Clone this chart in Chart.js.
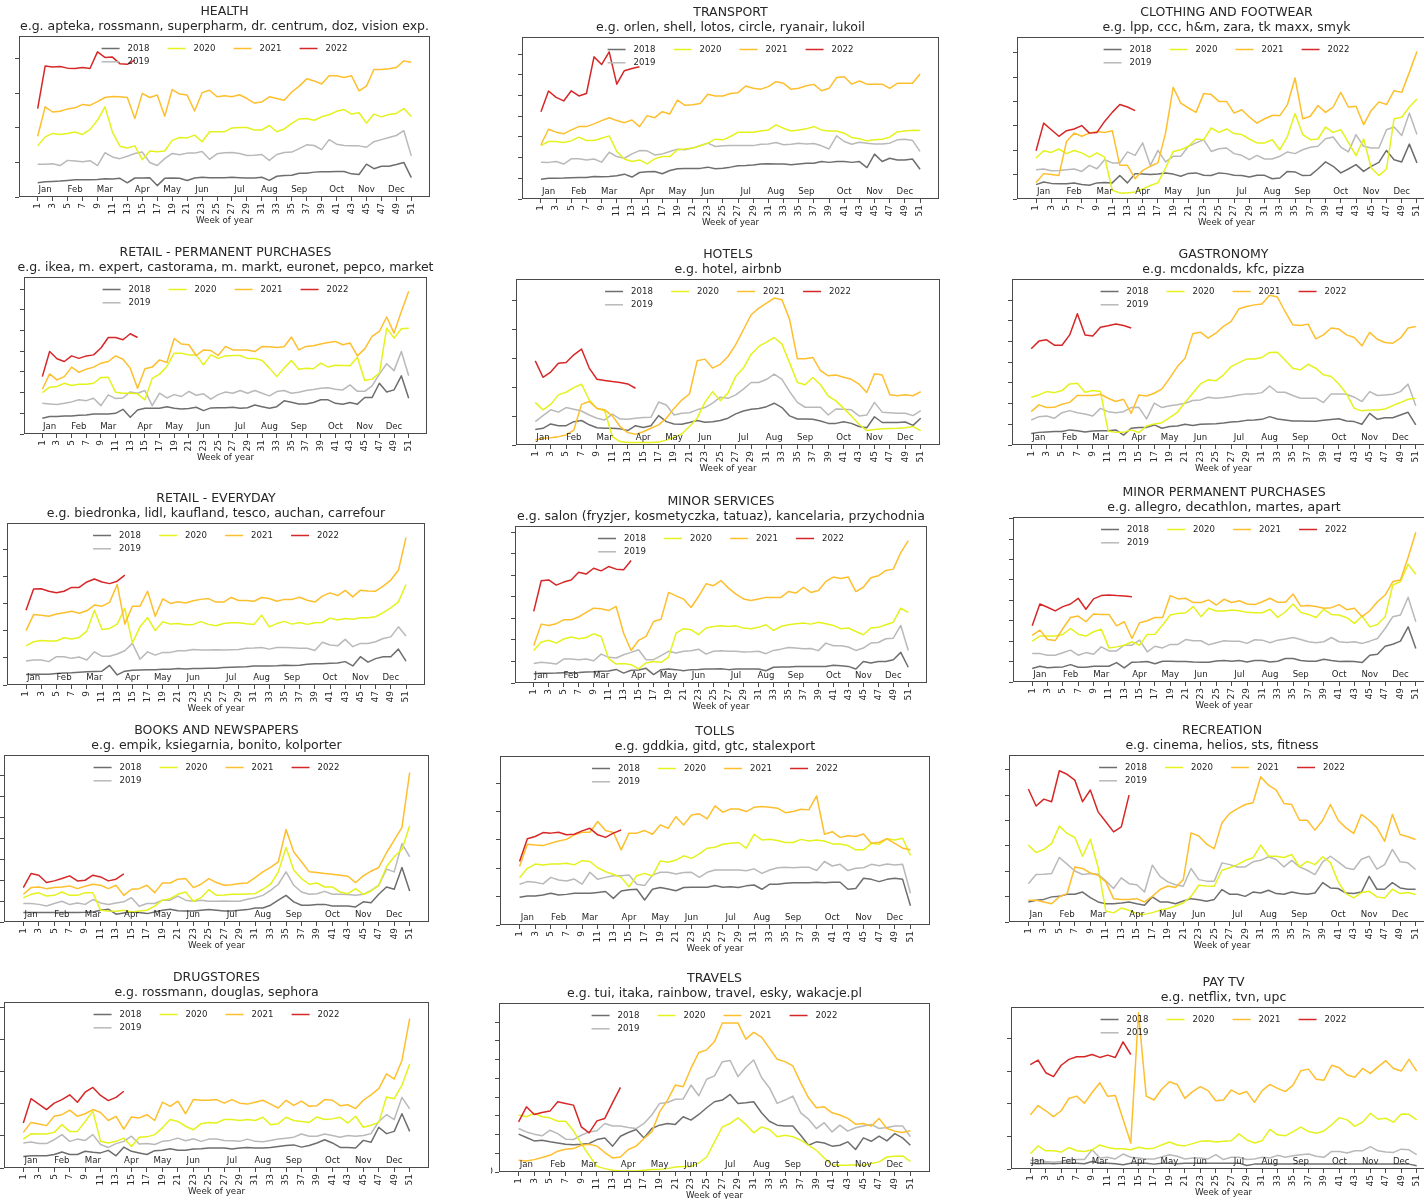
<!DOCTYPE html>
<html>
<head>
<meta charset="utf-8">
<script src="https://cdn.jsdelivr.net/npm/chart.js@4.4.1/dist/chart.umd.min.js"></script>
<style>
  html, body { margin: 0; padding: 0; background: #ffffff; overflow: hidden; width: 1424px; height: 1199px; }
  canvas { position: absolute; }
</style>
</head>
<body>
<script>
// ---- axis categories ----
const weeks = [1,2,3,4,5,6,7,8,9,10,11,12,13,14,15,16,17,18,19,20,21,22,23,24,25,26,27,28,29,30,31,32,33,34,35,36,37,38,39,40,41,42,43,44,45,46,47,48,49,50,51];
const tickWeeks = [1,3,5,7,9,11,13,15,17,19,21,23,25,27,29,31,33,35,37,39,41,43,45,47,49,51];
const monthNames = ['Jan','Feb','Mar','Apr','May','Jun','Jul','Aug','Sep','Oct','Nov','Dec'];
const monthWeeks = [2,6,10,15,19,23,28,32,36,41,45,49];
const years = ['2018','2019','2020','2021','2022'];

// ---- weekly index values, one array per category and year ----
const health2018 = [4.1,4.4,4.5,4.6,4.8,5.0,5.0,5.0,5.1,5.3,5.2,5.4,4.1,5.5,5.5,5.6,3.3,5.4,5.5,5.4,4.8,5.5,5.7,5.6,5.6,5.6,5.7,5.6,5.5,5.5,5.7,4.8,6.0,6.2,6.3,6.9,6.9,7.2,7.3,7.3,7.4,7.4,6.7,6.5,9.5,8.2,8.9,8.9,9.4,10.0,5.6];
const health2019 = [9.5,9.5,9.6,9.1,10.6,10.4,10.2,10.5,9.1,12.8,11.6,11.1,11.8,12.6,13.0,10.0,9.1,11.1,12.6,12.2,12.7,12.7,13.2,10.9,12.5,12.8,12.9,12.6,12.0,12.1,12.3,10.6,12.3,12.9,13.0,14.0,15.1,14.9,13.7,16.6,15.3,14.9,14.8,14.8,14.4,16.0,16.6,17.2,17.8,19.2,11.9];
const health2020 = [14.8,17.4,18.4,18.1,18.4,18.8,18.1,19.5,22.2,26.1,18.8,14.7,14.2,14.8,10.8,13.3,13.1,13.3,16.4,17.2,17.1,17.9,16.0,18.9,18.9,18.9,20.0,20.1,20.1,19.4,19.4,20.7,18.9,19.7,21.3,22.6,22.7,22.2,23.2,23.8,24.8,25.3,24.0,24.4,21.4,24.0,23.2,23.9,24.2,25.6,23.3];
const health2021 = [17.6,26.1,24.6,24.8,25.5,25.8,26.8,26.5,27.6,28.8,29.1,29.0,28.8,22.7,30.0,28.8,29.5,23.4,31.1,29.8,29.5,24.9,30.2,30.9,29.0,29.3,29.0,29.6,28.5,27.2,27.5,29.0,28.5,28.0,30.4,32.1,34.2,33.6,32.7,35.1,35.1,34.6,35.1,30.7,32.1,36.9,36.9,37.1,37.5,39.4,39.0];
const health2022 = [25.6,37.9,37.6,37.8,37.3,37.2,37.5,37.2,42.0,40.4,40.5,38.6,38.4,39.6];

const transport2018 = [9.6,10.0,10.0,10.1,10.3,10.4,10.4,10.9,10.8,10.9,11.2,12.0,10.6,12.8,13.2,13.3,12.2,13.8,14.6,14.8,14.8,14.8,15.4,14.6,14.9,15.4,16.1,16.2,16.4,16.9,17.0,16.9,16.9,16.5,16.9,17.3,17.3,18.1,17.7,18.1,18.1,17.7,18.1,15.2,21.7,18.1,19.7,18.9,18.9,19.3,14.4];
const transport2019 = [17.8,17.7,18.1,16.9,19.4,19.4,18.9,19.3,17.8,22.6,20.5,19.7,21.8,23.4,23.3,21.3,21.8,23.0,24.1,23.8,24.6,25.7,27.0,25.4,25.7,25.8,25.8,25.8,25.8,26.5,26.6,27.3,26.2,26.5,27.0,26.6,26.8,25.7,24.2,30.5,27.8,26.5,27.4,27.0,26.6,26.6,27.0,28.6,28.9,28.3,23.0];
const transport2020 = [25.8,27.8,27.8,27.3,28.1,29.9,28.3,28.3,29.4,30.5,23.0,19.3,18.1,18.9,17.0,19.4,20.5,20.5,23.8,24.2,24.6,25.7,27.0,28.9,28.6,30.2,32.3,32.3,32.3,32.9,33.4,35.8,34.2,32.9,33.4,33.9,35.0,33.4,32.9,32.9,31.8,29.7,29.1,28.1,28.6,28.9,29.9,32.4,32.9,33.2,33.1];
const transport2021 = [26.2,33.7,32.3,31.5,33.4,35.0,35.0,36.3,37.9,39.3,37.9,36.9,38.2,35.0,40.3,39.3,42.2,41.1,47.8,45.3,45.6,46.2,50.6,49.8,49.8,51.0,51.4,54.6,53.5,53.1,54.3,56.7,55.9,53.0,53.5,54.7,55.4,52.3,53.5,58.7,59.1,55.5,57.0,55.5,55.5,55.5,53.5,55.9,55.9,55.9,60.4];
const transport2022 = [42.2,52.2,49.1,47.4,52.3,49.8,51.0,68.7,65.0,71.1,55.5,62.0,63.1,63.9];

const clothing2018 = [5.9,7.0,6.4,6.3,6.3,6.6,5.9,5.6,6.6,6.8,6.6,9.6,6.6,10.4,10.2,10.0,10.2,10.7,10.2,9.3,10.5,10.7,9.7,9.6,10.7,10.4,9.7,9.6,9.0,9.7,9.7,8.3,8.6,11.3,11.1,9.6,9.7,12.3,15.2,13.4,10.7,12.3,14.1,11.3,13.4,15.0,19.9,16.1,15.2,22.5,14.8];
const clothing2019 = [12.0,12.3,11.6,11.7,12.0,12.3,11.3,13.8,12.4,16.1,14.8,14.8,19.3,17.9,23.0,13.8,19.9,15.2,17.5,17.5,21.6,23.0,24.3,19.5,20.6,20.9,18.6,17.9,16.1,17.9,16.4,16.4,17.5,19.3,18.6,20.2,21.2,21.6,24.7,25.4,21.3,19.3,26.4,21.6,20.9,20.9,28.4,29.5,26.0,35.2,26.4];
const clothing2020 = [16.8,19.8,19.1,20.5,18.6,19.9,18.9,17.2,18.9,17.2,3.6,2.5,2.5,2.9,4.1,5.5,6.6,12.7,19.5,20.2,21.6,24.6,24.3,29.1,27.3,28.7,26.8,26.4,24.6,23.0,23.0,24.3,20.2,25.7,35.0,26.4,24.3,24.6,29.5,27.3,28.4,23.2,17.8,24.6,12.7,9.6,12.3,32.9,33.5,37.7,41.0];
const clothing2021 = [6.8,10.4,10.0,9.6,23.6,27.0,25.7,27.0,27.7,27.3,28.0,13.8,13.8,8.3,11.7,13.4,14.8,27.0,45.8,39.3,37.3,35.5,43.2,42.8,40.0,40.0,35.2,36.6,33.6,31.1,32.9,34.2,34.2,38.7,49.6,32.9,33.9,38.3,35.5,37.7,43.7,37.7,38.0,30.5,36.3,39.8,38.7,44.4,43.7,51.9,60.5];
const clothing2022 = [19.8,31.1,28.4,25.7,28.0,28.7,30.1,27.0,27.3,31.8,35.5,38.7,37.7,36.2];

const retailPerm2018 = [7.6,8.4,8.4,8.7,8.7,9.0,9.2,9.7,9.7,9.7,10.0,11.9,8.1,11.6,12.4,12.4,12.4,13.2,12.4,12.1,12.3,12.9,11.3,12.6,12.7,12.7,12.9,12.4,12.7,14.0,13.2,12.4,13.2,16.0,15.3,14.5,14.5,15.2,16.5,16.5,14.8,14.4,15.2,14.4,17.6,17.6,24.5,20.3,21.3,28.1,17.3];
const retailPerm2019 = [14.8,14.5,14.2,14.8,15.5,16.5,16.1,17.3,13.7,18.9,17.1,17.4,20.3,19.7,21.0,13.7,19.7,17.4,19.0,18.1,20.6,18.7,19.4,16.8,19.0,20.3,19.7,21.0,19.7,21.0,19.7,18.4,20.5,21.0,19.7,20.2,21.0,21.5,22.1,22.3,21.6,21.3,23.7,20.6,20.6,23.2,28.9,33.9,30.6,39.8,28.1];
const retailPerm2020 = [20.0,22.6,22.9,24.5,23.4,24.0,24.0,24.5,27.3,27.4,20.2,19.7,19.7,19.4,16.5,26.9,28.9,32.6,39.0,39.0,38.2,38.2,33.4,38.2,36.5,37.7,37.9,37.9,36.5,36.5,35.5,31.8,27.7,31.8,35.5,31.3,31.8,31.5,34.2,32.3,33.2,33.1,32.9,37.1,25.8,26.5,29.4,51.1,46.3,50.8,51.1];
const retailPerm2021 = [21.6,29.0,26.1,27.7,32.3,29.8,31.3,32.3,34.2,35.0,37.7,36.1,31.8,22.1,31.5,32.3,35.8,34.5,46.1,43.4,43.1,37.9,40.6,40.3,37.9,42.3,40.6,40.6,40.6,39.8,42.3,42.1,41.8,42.1,46.8,40.6,42.3,42.6,43.5,44.2,44.7,43.1,43.9,37.7,41.1,47.1,49.5,56.5,48.7,59.2,68.9];
const retailPerm2022 = [27.7,39.8,36.3,35.0,37.7,36.5,37.7,38.2,41.5,46.6,46.6,45.5,48.4,46.6];

const hotels2018 = [5.4,5.8,7.3,6.7,6.7,8.1,8.5,7.0,6.0,5.8,5.8,5.6,5.0,6.7,6.1,6.7,10.2,8.1,7.3,7.2,7.8,8.5,7.9,8.1,8.5,9.3,10.8,11.8,12.4,12.7,13.3,14.5,13.0,10.1,9.0,9.0,8.9,8.3,7.5,7.5,8.1,7.5,6.4,6.0,9.8,7.8,7.8,7.8,8.0,6.8,9.3];
const hotels2019 = [8.1,10.2,12.2,11.4,13.0,12.4,11.8,10.4,9.3,8.7,10.7,9.0,8.9,9.3,9.5,9.6,14.9,13.9,10.4,11.0,11.2,12.2,13.0,14.5,16.6,16.2,17.4,19.4,21.7,21.7,22.8,24.6,22.8,18.5,14.8,13.1,13.1,13.1,10.4,12.5,12.4,12.2,10.1,10.4,14.8,11.4,11.2,11.0,11.0,10.2,11.9];
const hotels2020 = [14.7,12.2,14.1,17.4,18.3,19.9,21.1,15.6,12.7,11.9,2.9,1.2,0.9,0.9,0.9,0.9,1.0,1.7,2.7,3.8,6.4,9.3,14.8,18.5,15.4,18.0,23.8,26.7,31.5,34.2,35.7,37.3,35.0,28.4,21.7,20.9,23.4,20.9,17.0,15.3,12.7,10.1,7.2,5.0,5.4,5.6,5.7,5.8,6.0,6.4,5.0];
const hotels2021 = [1.7,2.3,2.5,2.9,3.5,5.2,14.1,15.1,12.7,12.2,10.1,6.4,4.3,3.7,4.6,5.8,7.0,9.3,12.7,15.6,17.7,29.2,29.8,26.7,28.0,30.7,34.8,40.0,45.2,47.5,49.2,51.0,50.4,43.5,29.9,29.9,30.4,25.8,24.0,24.3,23.5,22.8,21.1,18.2,24.7,24.3,17.4,17.1,17.4,17.1,18.5];
const hotels2022 = [29.2,23.5,25.3,28.4,28.6,31.3,33.3,26.7,22.8,22.4,22.0,21.7,21.2,19.7];

const gastro2018 = [5.6,6.1,6.3,6.5,6.5,7.3,6.9,6.3,6.8,6.9,6.9,7.3,4.8,8.1,8.4,8.5,9.7,8.1,8.9,9.2,10.0,9.4,10.0,10.2,10.3,10.6,11.1,11.3,11.9,12.1,12.4,13.7,12.6,12.1,11.6,11.6,11.5,11.5,11.9,12.3,12.7,11.6,11.3,10.0,15.3,12.4,13.2,13.2,14.5,15.8,9.7];
const gastro2019 = [12.1,13.7,14.0,12.9,15.6,16.6,15.6,15.0,14.0,17.7,16.1,15.6,16.1,18.1,18.2,12.6,20.2,18.1,19.0,19.4,20.2,21.5,21.8,23.1,22.6,22.9,23.4,24.2,24.7,24.7,25.3,28.5,25.5,25.5,23.9,22.6,22.6,22.6,20.5,24.7,24.7,24.5,23.1,21.0,25.8,23.9,24.2,24.5,25.8,29.4,19.0];
const gastro2020 = [23.1,24.2,25.8,25.3,26.3,29.5,29.8,25.5,26.3,25.8,6.8,6.1,6.1,7.3,6.0,9.2,10.2,10.8,13.2,15.8,20.5,25.0,29.5,31.5,31.0,33.9,37.9,39.8,41.5,41.6,42.3,44.7,44.8,41.1,37.1,36.3,39.0,37.1,33.9,33.1,29.5,24.7,17.7,16.5,16.9,16.9,17.4,19.0,20.5,22.1,22.6];
const gastro2021 = [16.1,19.4,18.1,18.2,19.7,20.6,23.9,23.9,23.9,24.5,22.6,21.0,22.1,15.3,24.2,23.7,25.0,27.1,32.3,37.9,41.9,53.7,54.5,51.6,54.0,57.3,59.7,65.8,66.9,67.7,68.1,72.3,71.5,64.5,58.1,57.7,58.4,51.3,53.2,56.5,56.0,53.2,51.9,47.9,54.4,51.1,49.5,49.2,51.6,56.5,57.3];
const gastro2022 = [46.5,50.2,50.8,48.2,48.2,53.2,63.4,53.2,52.7,56.9,57.6,58.5,57.7,56.5];

const retailDay2018 = [3.9,4.0,4.0,4.0,4.2,4.4,4.5,4.7,4.9,5.0,5.1,7.2,3.7,5.1,5.4,5.5,5.6,5.6,5.8,5.8,6.1,5.9,6.1,6.1,6.2,6.2,6.4,6.5,6.6,6.7,7.0,7.0,7.0,7.1,7.3,7.2,7.3,7.6,7.8,7.8,8.0,8.1,8.6,7.0,10.4,8.4,9.7,10.4,10.4,13.2,8.8];
const retailDay2019 = [8.8,9.2,9.2,8.6,10.4,10.4,9.8,10.3,9.2,12.2,10.6,10.6,11.4,12.6,15.3,9.5,12.2,11.0,12.0,12.0,12.6,12.6,13.1,12.9,12.9,13.0,12.9,13.0,13.1,13.5,13.6,13.8,13.2,13.8,13.8,13.7,13.5,13.5,12.7,15.7,14.7,14.4,16.8,14.1,15.3,15.3,15.9,17.1,17.7,21.4,18.0];
const retailDay2020 = [14.4,15.9,16.4,16.2,16.2,17.4,16.9,17.5,19.8,27.5,20.4,20.8,22.4,28.2,15.5,21.4,24.8,20.0,23.3,22.4,22.6,22.2,22.3,23.3,22.3,21.8,22.6,22.9,22.9,22.5,22.3,25.7,21.4,22.6,23.4,22.4,23.0,22.3,22.9,23.0,24.6,23.9,24.5,24.2,24.7,24.7,25.1,26.6,28.4,30.6,37.0];
const retailDay2021 = [20.0,25.9,25.7,25.3,26.1,26.6,27.1,26.4,27.3,29.4,29.0,30.4,37.0,22.4,29.0,29.0,34.5,25.3,31.7,30.0,30.6,30.2,31.0,31.5,31.8,30.5,30.5,32.2,31.1,31.1,30.8,32.2,31.8,30.8,31.5,31.5,32.3,31.2,30.5,32.7,33.9,32.9,34.8,32.4,34.9,34.6,34.5,36.4,38.6,42.2,54.2];
const retailDay2022 = [27.5,35.3,35.4,34.5,33.9,34.5,35.9,35.9,37.9,39.0,37.9,37.3,38.2,40.4];

const services2018 = [4.3,4.5,4.5,4.6,4.8,4.8,4.9,5.1,5.2,5.4,5.6,6.3,4.6,5.9,6.0,6.8,3.9,6.2,6.5,6.2,5.7,6.2,6.3,6.5,6.5,6.6,6.2,6.5,6.5,6.5,6.5,5.7,7.3,7.4,7.4,7.6,7.6,7.6,7.6,7.7,8.2,8.0,7.7,6.5,10.0,9.3,10.0,10.0,10.8,14.2,7.3];
const services2019 = [9.0,9.6,9.3,8.8,11.1,11.1,10.8,11.1,10.3,13.4,11.9,11.6,13.1,14.2,15.4,10.8,10.8,12.7,14.7,13.9,14.7,15.0,15.7,13.4,14.7,15.0,14.7,14.7,14.4,14.5,14.7,13.6,15.1,15.7,16.5,16.2,15.9,16.0,15.0,18.5,17.3,17.3,16.7,15.1,16.2,18.5,18.8,20.5,20.8,26.7,15.1];
const services2020 = [15.1,19.0,19.8,18.5,20.4,21.3,20.5,21.1,22.8,21.6,11.3,8.8,9.0,8.5,6.6,9.3,10.0,9.6,12.0,23.1,25.2,24.7,22.4,25.5,26.2,26.5,26.2,26.5,25.5,25.2,25.8,27.0,24.4,26.2,27.0,27.5,27.8,27.3,28.2,27.5,26.7,25.2,25.5,23.9,22.4,25.5,25.8,27.0,28.2,34.7,32.7];
const services2021 = [17.4,27.3,26.7,27.5,29.3,29.3,30.6,32.7,34.7,34.4,33.6,35.5,23.1,15.1,19.8,21.6,28.5,29.6,42.0,40.4,38.9,35.0,40.1,46.0,45.1,47.5,44.0,41.2,39.0,38.3,39.0,39.7,39.7,39.7,42.4,41.7,44.4,42.0,42.9,47.1,49.1,48.5,49.1,42.4,44.4,48.8,49.7,52.2,52.8,60.5,66.0];
const services2022 = [33.2,47.4,47.8,45.4,46.8,47.8,51.4,50.5,53.2,52.0,54.0,52.8,52.5,56.8];

const minorPerm2018 = [6.6,7.7,7.0,7.2,7.4,8.5,7.2,7.2,7.7,7.7,7.7,9.5,6.9,9.7,9.8,10.0,8.9,10.2,10.2,10.0,10.0,9.8,9.7,9.7,10.3,10.5,10.2,10.5,9.8,10.5,10.5,9.8,10.2,11.5,11.5,10.5,10.2,10.2,11.1,10.5,10.0,10.2,10.0,9.5,13.1,13.6,17.5,18.5,20.0,27.0,16.4];
const minorPerm2019 = [13.9,13.9,13.1,13.1,14.3,15.6,13.1,14.4,13.6,17.2,15.2,15.2,18.0,18.0,20.5,14.8,17.5,16.7,18.4,18.4,20.8,20.2,20.2,18.2,19.2,20.2,20.0,20.0,18.9,20.7,20.5,19.2,20.5,21.1,21.8,20.8,19.7,19.2,19.7,21.8,19.7,19.3,19.7,18.9,20.0,21.3,26.2,32.0,32.8,41.5,29.5];
const minorPerm2020 = [20.0,22.5,22.5,22.5,23.3,26.2,23.4,22.5,24.6,25.9,16.7,17.2,18.0,19.7,18.0,23.3,23.4,27.9,32.8,33.6,33.9,36.9,32.0,36.1,34.8,34.8,35.2,34.9,34.1,33.9,33.9,35.6,31.6,34.4,38.2,34.1,33.1,31.6,35.6,33.1,32.8,31.5,28.7,32.3,27.0,28.2,32.0,47.5,49.2,57.7,52.8];
const minorPerm2021 = [22.8,25.4,20.8,20.3,26.2,31.6,32.3,29.5,33.3,33.1,33.1,27.5,29.5,21.3,29.0,30.0,31.6,31.6,42.3,40.7,41.0,38.9,38.9,40.2,37.7,40.5,38.9,39.8,38.2,37.9,39.3,41.0,39.0,39.0,43.1,37.2,37.5,37.0,36.1,36.4,37.9,35.4,36.1,32.0,34.9,39.3,42.6,49.2,50.0,61.1,73.3];
const minorPerm2022 = [27.5,38.2,36.6,34.8,36.9,38.2,41.0,35.6,40.7,42.3,42.6,42.3,42.1,41.8];

const books2018 = [4.5,4.5,4.5,4.5,4.5,4.5,4.5,4.5,4.6,4.8,5.6,6.1,3.7,4.3,4.8,4.5,4.0,4.8,5.6,6.1,5.4,5.3,5.3,5.6,5.9,5.6,5.3,5.3,5.6,5.9,6.7,6.7,8.0,10.4,12.7,9.6,8.0,8.0,8.3,8.4,7.6,7.6,7.6,7.2,9.6,9.2,13.2,16.7,15.6,26.0,14.8];
const books2019 = [8.8,8.8,8.4,7.6,8.8,9.9,8.3,9.1,8.4,10.7,9.1,8.3,9.1,9.6,11.6,7.5,8.8,8.8,10.4,10.4,12.3,10.4,9.9,10.4,9.9,9.9,10.0,9.9,9.9,10.8,11.6,12.7,15.1,18.0,23.9,17.5,14.3,13.2,13.5,14.6,13.2,13.2,13.1,12.7,13.2,15.1,17.5,25.2,23.9,37.4,31.1];
const books2020 = [11.5,13.2,13.9,12.4,12.7,14.3,12.7,12.7,13.9,13.9,5.6,5.3,5.1,5.6,4.8,5.3,5.6,7.6,10.4,11.1,13.2,14.3,9.9,11.6,15.4,12.7,12.9,13.2,13.2,13.4,13.5,15.6,18.0,23.9,35.5,24.7,20.7,18.0,18.6,16.7,16.7,14.3,13.5,15.9,13.1,14.8,17.5,26.3,31.1,34.6,45.9];
const books2021 = [13.2,16.4,16.7,15.9,16.4,16.7,17.2,15.9,17.0,18.0,17.5,15.9,17.5,12.7,15.6,15.9,17.5,14.0,18.6,18.6,20.4,20.7,16.4,18.0,20.7,18.8,17.5,17.8,18.3,18.6,21.2,23.9,26.0,28.7,44.1,33.4,28.7,23.9,23.6,23.1,22.8,22.3,21.8,18.8,22.0,24.2,26.0,33.0,39.0,45.1,71.2];
const books2022 = [16.4,23.1,22.3,18.8,19.6,20.7,22.0,19.6,19.9,22.3,21.5,19.6,20.4,22.9];

const tolls2018 = [9.8,10.2,10.2,10.6,11.2,10.6,10.8,11.2,11.2,11.2,11.5,11.8,9.4,12.0,12.4,12.6,8.8,12.6,13.2,12.7,12.1,13.2,13.3,13.3,13.3,13.9,13.3,13.5,13.2,13.8,14.1,12.6,14.4,14.4,14.7,14.9,14.9,14.9,15.1,14.9,15.1,15.1,12.6,12.9,16.5,16.1,15.3,16.1,16.5,16.1,6.8];
const tolls2019 = [14.4,15.3,15.1,14.5,16.8,15.9,15.5,16.2,14.4,18.6,16.1,16.8,17.4,17.4,17.6,14.4,13.9,17.6,18.6,18.6,18.0,18.5,18.6,16.8,18.6,19.4,19.4,19.4,19.4,19.1,19.8,18.2,19.4,20.2,20.4,20.2,20.4,20.4,19.2,22.4,20.8,21.4,19.2,20.0,20.2,21.4,20.9,21.5,21.2,21.4,11.2];
const tolls2020 = [16.7,20.0,21.5,21.2,21.5,21.5,21.8,21.2,22.7,22.4,20.2,18.8,17.9,16.8,13.5,17.4,18.2,17.3,22.6,22.1,22.9,24.4,23.5,25.1,27.1,27.4,28.5,28.8,29.1,27.1,32.0,30.0,30.2,29.8,29.1,29.1,30.2,29.6,30.0,29.6,28.6,28.6,28.0,26.5,26.5,28.8,28.5,30.4,30.0,30.6,24.5];
const tolls2021 = [20.6,28.5,28.2,28.0,28.8,29.6,30.2,31.8,32.7,32.7,36.5,33.3,32.6,26.5,32.4,32.4,33.3,32.0,35.3,34.1,38.2,35.3,38.8,39.2,37.4,42.0,39.8,40.9,40.9,40.0,41.5,41.8,41.5,41.2,39.6,40.0,40.8,40.6,45.5,32.0,32.9,30.9,31.5,31.2,32.1,28.8,29.2,30.4,28.8,27.1,26.5];
const tolls2022 = [22.4,30.4,31.2,32.6,32.4,32.7,31.8,32.0,33.2,34.1,31.8,30.9,32.4,33.5];

const recreation2018 = [7.9,8.6,8.9,9.9,10.1,10.9,10.9,11.8,9.6,7.9,7.2,7.2,7.5,7.9,7.2,6.6,9.9,7.9,7.9,7.2,8.3,9.2,8.8,8.2,8.9,12.8,10.9,10.9,10.1,11.8,11.4,12.5,11.2,10.9,11.8,11.2,10.9,11.4,15.5,13.4,13.2,11.4,11.2,11.8,18.0,12.9,12.9,15.5,13.4,12.9,12.9];
const recreation2019 = [15.1,18.7,18.8,19.1,25.4,22.8,20.1,18.7,19.1,18.8,16.2,13.2,17.4,15.1,14.7,11.8,22.4,18.0,15.8,14.7,14.1,21.1,16.7,16.1,16.1,23.3,22.6,21.7,21.7,23.7,24.3,25.7,24.6,21.7,24.3,21.7,20.4,18.7,23.7,25.9,23.7,21.3,20.7,24.7,25.9,20.8,22.6,28.6,23.7,23.3,20.7];
const recreation2020 = [30.3,27.4,28.6,30.9,37.8,34.9,33.3,25.9,32.6,21.7,4.3,3.6,5.5,4.6,3.3,3.0,3.7,4.6,5.3,6.3,7.5,10.1,14.5,14.2,14.1,20.4,21.4,22.6,24.3,25.3,30.3,25.9,25.9,25.4,26.6,21.7,23.9,22.6,25.7,23.4,15.8,11.2,9.5,11.6,12.1,9.9,9.5,12.9,11.2,11.6,10.8];
const recreation2021 = [8.6,8.6,7.9,7.2,9.9,11.2,21.7,21.1,19.3,18.4,15.8,9.2,8.9,8.9,9.2,7.9,10.1,12.8,14.2,13.6,16.7,35.1,33.9,30.7,28.9,39.1,42.8,44.7,46.3,47.0,57.2,53.9,52.0,46.7,46.3,40.1,40.1,36.2,40.1,46.3,40.1,37.1,34.9,42.4,40.1,37.2,31.8,42.4,34.5,33.6,32.5];
const recreation2022 = [52.4,45.7,48.4,47.4,59.6,58.2,55.9,47.4,52.0,43.4,39.5,35.5,37.5,50.0];

const drug2018 = [3.6,3.8,3.8,3.8,4.2,5.0,4.2,4.2,5.2,4.9,4.7,5.5,3.8,6.5,5.2,4.7,4.2,5.4,5.5,6.0,5.5,5.5,5.9,6.0,6.2,6.2,6.2,5.9,6.2,6.4,6.2,6.2,6.4,6.7,7.0,7.2,6.5,7.0,7.8,8.8,7.8,6.4,6.4,6.2,8.6,8.0,12.7,10.7,11.4,16.9,11.4];
const drug2019 = [7.8,8.1,7.6,7.6,8.8,10.4,8.3,9.0,8.6,10.4,7.3,6.4,7.6,8.3,9.9,7.5,7.6,7.3,8.3,8.6,9.3,8.5,9.1,8.3,9.0,9.0,8.6,8.5,8.3,9.0,8.3,8.2,8.6,9.0,9.3,9.6,10.6,9.9,9.9,10.6,10.1,9.6,10.1,9.9,10.1,10.7,14.5,16.6,15.1,22.0,18.4];
const drug2020 = [9.0,10.7,10.6,10.6,11.1,13.5,11.4,11.4,14.5,17.7,8.3,7.8,8.3,9.3,6.7,9.6,9.7,10.4,12.5,15.1,14.5,13.0,11.9,13.8,14.2,14.0,15.1,15.1,14.8,15.1,14.8,15.8,13.5,13.8,15.8,14.8,14.5,14.2,15.9,15.1,15.3,15.8,14.0,16.1,12.7,13.3,14.2,22.1,21.6,25.8,32.4];
const drug2021 = [11.1,14.2,13.7,13.2,16.1,16.6,18.0,16.1,16.9,18.2,17.3,14.8,16.1,12.1,15.9,15.6,16.6,14.8,20.5,19.2,20.8,16.9,21.3,21.1,21.1,21.3,20.2,21.3,20.2,19.9,20.5,21.1,19.9,18.7,21.1,19.5,20.8,19.2,19.4,21.3,21.1,19.4,19.7,18.5,21.1,22.8,24.7,29.3,27.7,33.5,46.5];
const drug2022 = [14.0,21.6,19.9,18.2,20.2,21.3,22.8,20.5,23.6,25.1,22.6,21.0,22.0,23.9];

const travels2018 = [20.2,18.4,16.6,17.0,16.1,15.5,14.8,14.6,14.8,15.2,17.3,18.2,13.8,19.1,21.1,22.7,18.2,23.2,25.0,25.9,25.4,29.5,27.7,30.7,34.3,37.5,38.4,41.4,36.6,37.0,37.5,31.6,27.1,25.0,24.6,24.5,19.6,14.3,16.1,15.5,13.8,14.3,16.1,12.0,18.2,16.4,19.1,16.6,20.5,18.2,14.3];
const travels2019 = [23.2,21.4,20.2,19.3,22.3,20.5,17.5,17.3,19.6,21.4,22.0,25.9,24.6,24.5,23.8,23.2,25.9,30.4,36.6,37.1,38.8,38.9,46.4,40.7,49.5,51.3,58.9,59.5,50.9,55.9,59.8,50.4,45.0,36.6,38.4,40.5,31.6,28.2,23.2,26.3,21.4,25.0,21.8,23.6,24.5,25.4,23.2,23.8,24.5,24.6,18.8];
const travels2020 = [30.4,29.5,31.3,29.5,28.9,27.1,27.1,22.0,15.2,8.9,3.0,1.8,0.9,0.5,0.5,0.5,0.9,1.3,1.4,1.8,2.7,3.0,3.0,4.8,8.0,16.1,24.1,25.9,28.9,25.4,20.9,24.1,22.7,18.8,19.6,18.8,17.0,14.3,11.6,7.5,3.9,3.6,3.6,3.9,3.6,4.5,5.4,8.0,8.4,8.6,5.7];
const travels2021 = [6.3,5.9,6.6,7.7,8.9,11.1,12.1,12.5,14.3,14.8,13.8,10.4,7.5,8.0,12.0,13.8,17.9,21.4,32.1,38.4,46.4,45.5,55.4,63.8,65.2,69.6,79.5,79.5,79.5,70.9,74.5,72.0,66.1,60.2,58.9,56.6,47.7,39.6,34.3,34.8,31.6,30.4,28.6,25.5,25.9,24.5,28.6,23.2,21.8,21.1,22.0];
const travels2022 = [26.8,34.8,30.7,31.8,32.5,37.5,36.6,35.7,24.1,20.9,27.3,28.6,37.0,45.2];

const paytv2018 = [1.8,1.6,1.8,1.6,1.8,1.8,1.8,1.6,2.3,1.8,1.8,1.6,1.3,1.8,1.8,1.8,1.5,1.8,1.8,1.6,1.8,1.8,1.8,1.8,1.8,1.8,1.8,1.8,1.1,1.5,1.5,1.5,1.5,1.5,1.5,1.5,1.5,1.5,1.5,1.5,1.5,1.5,1.5,1.5,1.5,1.5,1.5,1.5,1.5,1.5,1.0];
const paytv2019 = [2.7,2.7,2.3,2.1,2.3,2.9,2.9,2.9,5.9,3.4,3.6,3.1,4.6,3.6,3.4,3.1,3.1,3.7,4.4,3.9,3.1,3.4,3.4,3.1,4.4,2.9,3.6,3.6,2.9,3.1,3.6,3.4,4.2,3.6,4.1,4.4,4.6,3.9,3.6,5.4,5.4,4.9,5.6,5.6,6.9,5.6,5.2,5.1,6.1,5.9,4.4];
const paytv2020 = [4.7,7.1,5.6,5.6,5.2,6.6,5.6,5.4,5.9,7.4,6.6,6.2,6.2,5.9,6.7,6.2,6.4,7.4,8.3,7.4,7.1,7.8,8.5,8.7,8.3,8.5,8.7,10.8,9.0,8.0,8.7,12.2,10.5,10.2,11.5,12.9,11.5,11.0,11.7,13.6,15.8,15.1,13.1,14.4,17.1,15.3,15.6,14.4,16.9,16.8,15.1];
const paytv2021 = [16.6,19.5,17.9,16.1,17.9,21.7,22.4,20.2,23.5,26.5,22.4,22.6,15.3,8.0,48.0,22.4,21.2,24.5,26.8,26.0,21.7,23.8,25.3,24.1,21.0,21.2,24.3,23.0,23.8,20.5,24.1,26.0,24.8,23.8,25.8,30.2,30.7,27.6,27.3,31.9,31.1,28.9,28.2,30.9,29.4,31.4,33.3,30.9,30.1,33.7,30.1];
const paytv2022 = [32.1,33.5,29.6,28.4,31.9,33.7,34.5,34.5,35.2,34.3,35.0,34.3,39.1,35.2];

// ---- panel definitions (grid order, row by row) ----
const panels = [
  { title: 'HEALTH', sub: 'e.g. apteka, rossmann, superpharm, dr. centrum, doz, vision exp.', series: [health2018, health2019, health2020, health2021, health2022], yMax: 46.6 },
  { title: 'TRANSPORT', sub: 'e.g. orlen, shell, lotos, circle, ryanair, lukoil', series: [transport2018, transport2019, transport2020, transport2021, transport2022], yMax: 78.3 },
  { title: 'CLOTHING AND FOOTWEAR', sub: 'e.g. lpp, ccc, h&m, zara, tk maxx, smyk', series: [clothing2018, clothing2019, clothing2020, clothing2021, clothing2022], yMax: 66.4 },
  { title: 'RETAIL - PERMANENT PURCHASES', sub: 'e.g. ikea, m. expert, castorama, m. markt, euronet, pepco, market', series: [retailPerm2018, retailPerm2019, retailPerm2020, retailPerm2021, retailPerm2022], yMax: 75.8 },
  { title: 'HOTELS', sub: 'e.g. hotel, airbnb', series: [hotels2018, hotels2019, hotels2020, hotels2021, hotels2022], yMax: 57.6 },
  { title: 'GASTRONOMY', sub: 'e.g. mcdonalds, kfc, pizza', series: [gastro2018, gastro2019, gastro2020, gastro2021, gastro2022], yMax: 80.2 },
  { title: 'RETAIL - EVERYDAY', sub: 'e.g. biedronka, lidl, kaufland, tesco, auchan, carrefour', series: [retailDay2018, retailDay2019, retailDay2020, retailDay2021, retailDay2022], yMax: 59.6 },
  { title: 'MINOR SERVICES', sub: 'e.g. salon (fryzjer, kosmetyczka, tatuaz), kancelaria, przychodnia', series: [services2018, services2019, services2020, services2021, services2022], yMax: 72.8 },
  { title: 'MINOR PERMANENT PURCHASES', sub: 'e.g. allegro, decathlon, martes, apart', series: [minorPerm2018, minorPerm2019, minorPerm2020, minorPerm2021, minorPerm2022], yMax: 80.8 },
  { title: 'BOOKS AND NEWSPAPERS', sub: 'e.g. empik, ksiegarnia, bonito, kolporter', series: [books2018, books2019, books2020, books2021, books2022], yMax: 79.6 },
  { title: 'TOLLS', sub: 'e.g. gddkia, gitd, gtc, stalexport', series: [tolls2018, tolls2019, tolls2020, tolls2021, tolls2022], yMax: 59.6 },
  { title: 'RECREATION', sub: 'e.g. cinema, helios, sts, fitness', series: [recreation2018, recreation2019, recreation2020, recreation2021, recreation2022], yMax: 65.8 },
  { title: 'DRUGSTORES', sub: 'e.g. rossmann, douglas, sephora', series: [drug2018, drug2019, drug2020, drug2021, drug2022], yMax: 51.7 },
  { title: 'TRAVELS', sub: 'e.g. tui, itaka, rainbow, travel, esky, wakacje.pl', series: [travels2018, travels2019, travels2020, travels2021, travels2022], yMax: 90.2, zeroLabel: true },
  { title: 'PAY TV', sub: 'e.g. netflix, tvn, upc', series: [paytv2018, paytv2019, paytv2020, paytv2021, paytv2022], yMax: 49.8 }
];

// ---- page layout: plot-area box of each panel [left, top, right, bottom] ----
const boxes = [
  [19, 36, 430, 197], [522, 37, 939, 199], [1017, 37, 1436, 199],
  [24, 277, 427, 434], [516, 279, 940, 445], [1012, 279, 1435, 445],
  [7, 523, 425, 685], [515, 526, 927, 683], [1013, 517, 1435, 682],
  [4, 755, 429, 922], [500, 756, 930, 925], [1009, 755, 1435, 922],
  [4, 1002, 429, 1168], [499, 1003, 930, 1172], [1011, 1007, 1436, 1169]
];

// ---- styling ----
const FONT = '"DejaVu Sans", "Liberation Sans", sans-serif';
const yearColors = ['#6e6e6e', '#b9b9b9', '#e4f21e', '#fdbf2d', '#d62728'];
const FRAME = '#4a4a4a';
const TEXT = '#262626';
const PAD = 40;
Chart.defaults.font.family = FONT;

const panelDecor = {
  id: 'panelDecor',
  afterDatasetsDraw(chart, args, opts) {
    const { ctx, chartArea: a, scales } = chart;
    const x = scales.x;
    const cx = (a.left + a.right) / 2;
    ctx.save();

    // month names along the bottom of the plot
    ctx.fillStyle = TEXT;
    ctx.font = '8.6px ' + FONT;
    ctx.textAlign = 'center';
    ctx.textBaseline = 'middle';
    monthNames.forEach((m, i) => ctx.fillText(m, x.getPixelForValue(monthWeeks[i]), a.bottom - 7));

    // legend: 4 columns, filled column by column
    const ds = chart.data.datasets;
    const ncol = 4, n = ds.length;
    const base = Math.floor(n / ncol), extra = n % ncol;
    const pitch = 66, lineLen = 18, gap = 8;
    const lastW = ctx.measureText(ds[n - 1].label).width;
    const startX = cx - ((ncol - 1) * pitch + lineLen + gap + lastW) / 2;
    let k = 0;
    for (let c = 0; c < ncol; c++) {
      const rows = base + (c < extra ? 1 : 0);
      for (let r = 0; r < rows; r++, k++) {
        const d = ds[k];
        const lx = startX + c * pitch;
        const ly = a.top + 12.5 + r * 13.3;
        ctx.strokeStyle = d.borderColor;
        ctx.lineWidth = 1.5;
        ctx.beginPath();
        ctx.moveTo(lx, ly);
        ctx.lineTo(lx + lineLen, ly);
        ctx.stroke();
        ctx.textAlign = 'left';
        ctx.fillStyle = TEXT;
        ctx.fillText(d.label, lx + lineLen + gap, ly);
      }
    }

    // plot frame
    ctx.strokeStyle = FRAME;
    ctx.lineWidth = 1;
    ctx.strokeRect(a.left + 0.5, a.top + 0.5, a.right - a.left - 1, a.bottom - a.top - 1);
    ctx.restore();
  },
  afterDraw(chart, args, opts) {
    const { ctx, chartArea: a } = chart;
    const cx = (a.left + a.right) / 2;
    ctx.save();
    ctx.fillStyle = TEXT;
    ctx.textAlign = 'center';
    ctx.textBaseline = 'middle';
    ctx.font = '12.5px ' + FONT;
    ctx.fillText(opts.title, cx, a.top - 24);
    ctx.fillText(opts.sub, cx, a.top - 9);
    ctx.font = '8.7px ' + FONT;
    ctx.fillText('Week of year', cx, a.bottom + 23.5);
    ctx.restore();
  }
};

panels.forEach((p, i) => {
  const [L, T, R, B] = boxes[i];
  const W = R - L + 2 * PAD, H = B - T + 2 * PAD;
  const canvas = document.createElement('canvas');
  canvas.width = W;
  canvas.height = H;
  canvas.style.left = (L - PAD) + 'px';
  canvas.style.top = (T - PAD) + 'px';
  canvas.style.width = W + 'px';
  canvas.style.height = H + 'px';
  document.body.appendChild(canvas);

  const datasets = p.series.map((vals, j) => ({
    label: years[j],
    data: vals.map((v, w) => ({ x: weeks[w], y: v })),
    borderColor: yearColors[j],
    backgroundColor: yearColors[j],
    borderWidth: 1.5,
    pointRadius: 0,
    tension: 0,
    fill: false,
    borderJoinStyle: 'round',
    order: years.length - 1 - j
  }));

  new Chart(canvas, {
    type: 'line',
    data: { datasets },
    options: {
      responsive: false,
      animation: false,
      devicePixelRatio: 1,
      events: [],
      layout: { padding: { left: PAD - 8, right: PAD, top: PAD, bottom: 0 } },
      plugins: {
        legend: { display: false },
        tooltip: { enabled: false },
        panelDecor: { title: p.title, sub: p.sub }
      },
      scales: {
        x: {
          type: 'linear',
          min: -1.5,
          max: 53.5,
          afterBuildTicks: s => { s.ticks = tickWeeks.map(v => ({ value: v })); },
          afterFit: s => { s.height = PAD; },
          ticks: {
            autoSkip: false, minRotation: 90, maxRotation: 90, padding: 2,
            color: TEXT, font: { size: 9 },
            callback: v => String(v)
          },
          grid: { drawOnChartArea: false, drawTicks: true, tickLength: 4, color: FRAME },
          border: { display: false }
        },
        y: {
          min: 0,
          max: p.yMax,
          afterBuildTicks: s => {
            const t = [];
            for (let v = 0; v < p.yMax - 0.5; v += 10) t.push({ value: v });
            s.ticks = t;
          },
          afterFit: s => { s.width = 8; },
          ticks: {
            padding: 2, color: TEXT, font: { size: 9 },
            callback: v => (p.zeroLabel && v === 0) ? '0' : ''
          },
          grid: { drawOnChartArea: false, drawTicks: true, tickLength: 4, color: FRAME },
          border: { display: false }
        }
      }
    },
    plugins: [panelDecor]
  });
});
</script>
</body>
</html>
